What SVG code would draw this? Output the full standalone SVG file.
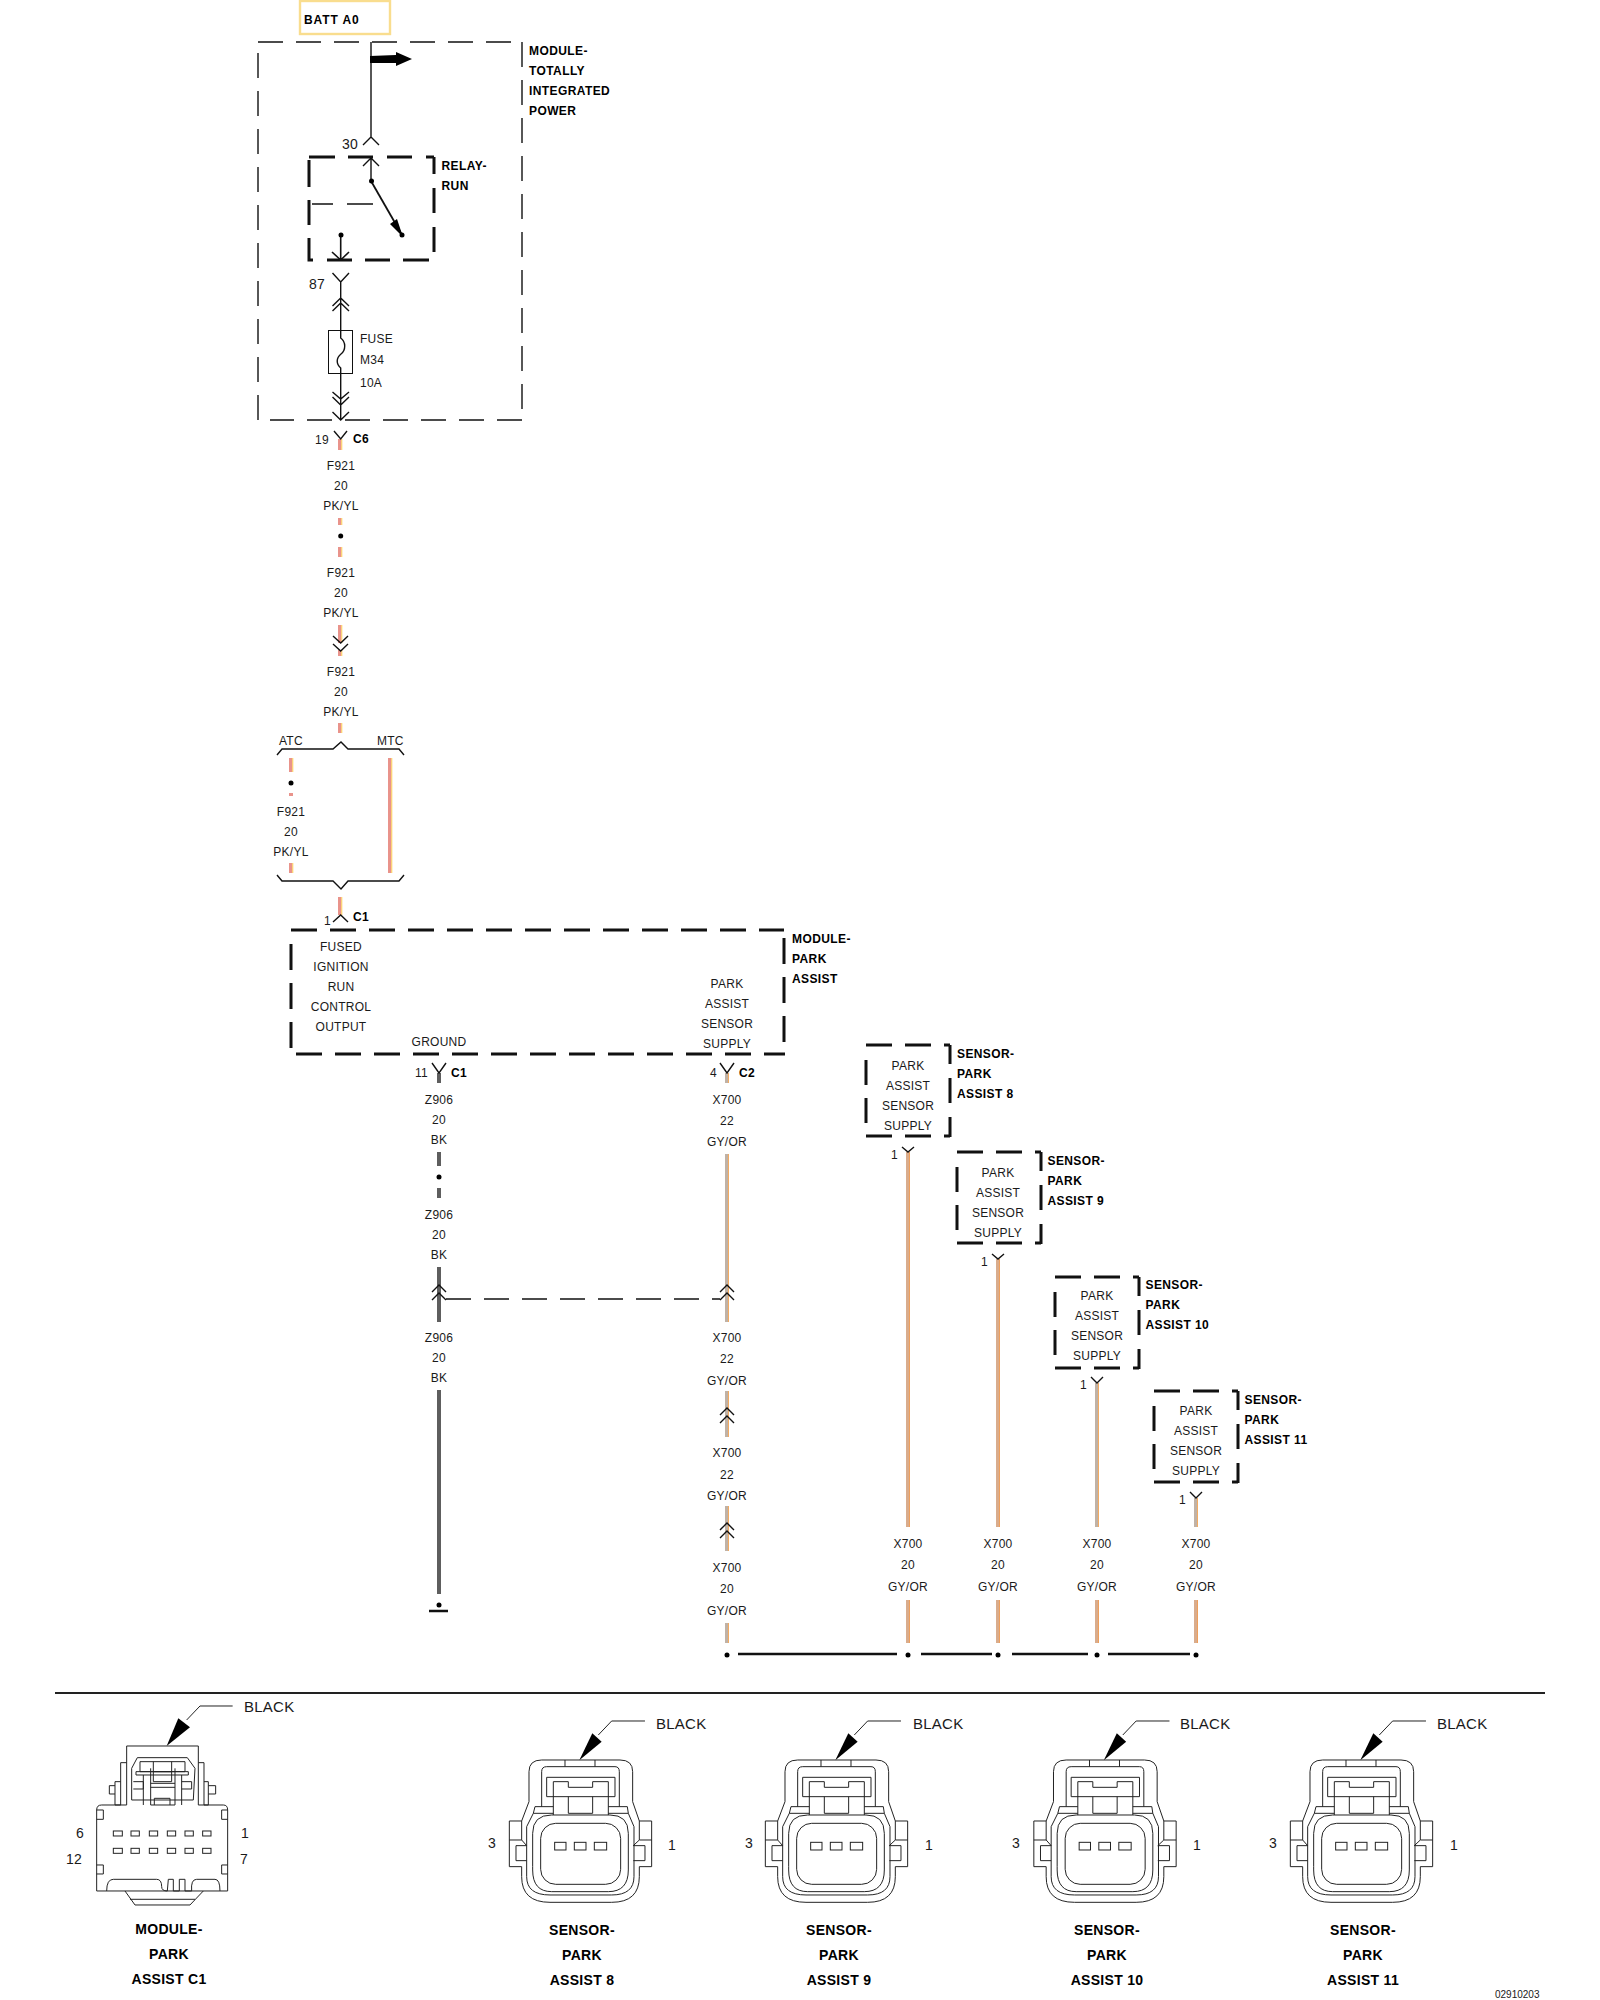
<svg xmlns="http://www.w3.org/2000/svg" xmlns:xlink="http://www.w3.org/1999/xlink" width="1600" height="2000" viewBox="0 0 1600 2000">
<style>
text{font-family:"Liberation Sans",Arial,sans-serif;font-size:12px;fill:#1a1a1a;letter-spacing:.25px}
.c{text-anchor:middle}
.b{font-weight:bold;fill:#000;letter-spacing:.4px}
.n{font-size:14px}
.l{font-size:15px}
.h{font-size:14px;font-weight:bold;fill:#000;text-anchor:middle;letter-spacing:.3px}
.thin{fill:none;stroke:#111;stroke-width:1.4}
.dash1{fill:none;stroke:#111;stroke-width:1.4;stroke-dasharray:25 13}
.dash3{fill:none;stroke:#111;stroke-width:3}
.pk{fill:none;stroke:#e9938b;stroke-width:4}
.pka{fill:none;stroke:#fdd678;stroke-width:1.3}
.gy{fill:none;stroke:#c0b2a6;stroke-width:4}
.gya{fill:none;stroke:#f3ab62;stroke-width:1}
.ta{fill:none;stroke:#d9ac8c;stroke-width:4}
.taa{fill:none;stroke:#ee9f5c;stroke-width:1}
.bk{fill:none;stroke:#5e5e5e;stroke-width:4}
.cn{fill:none;stroke:#222;stroke-width:3}
.dot{fill:#000}
</style>
<defs>
<path id="sbox" class="dash3" d="M0 0H26M39 0H65M78 0H84M84 0V19M84 33V58M84 72V92M84 91H78M65 91H39M26 91H0M0 15V40M0 53V78"/>
<g id="sensorArt">
<path d="M495 63H395L355 105" class="cn"/>
<path d="M298 181L337 100L365 125Z" fill="#000"/>
<path class="cn" d="M125 363H88V500H125V530Q125 607 210 607H395Q478 607 478 530V500H515V363H478L458 305V215Q458 180 420 180H185Q147 180 147 215V305L125 363Z"/>
<path class="cn" d="M88 420H125L140 437H108V482H140M515 420H478L460 437H495V482H460M125 363V420M478 363V420M255 180V200M345 180V200"/>
<path class="cn" d="M185 320V215Q185 200 200 200H405Q418 200 418 215V320M160 340L165 320H220M385 320H442L445 340M160 340H220M385 340H445M200 290V232H405V290M200 290H405M220 245V345M385 245V345M220 245H265V262H338V245H385M265 290V340H338V290"/>
<path class="cn" d="M160 340L140 380V530Q140 585 210 585H395Q462 585 462 530V380L445 340"/>
<path class="cn" d="M158 500V400Q158 345 215 345H390Q445 345 445 400V510Q445 575 385 575H215Q158 575 158 510Z"/>
<rect class="cn" x="182" y="370" width="240" height="183" rx="45"/>
<rect class="cn" x="224" y="427" width="34" height="23"/>
<rect class="cn" x="283" y="427" width="35" height="23"/>
<rect class="cn" x="343" y="427" width="37" height="23"/>
</g>
</defs>

<g id="connectors">
<path class="pk" d="M340 439V450M340 518V525M340 547V557M340 625V643M340 650V656M340 723V733M291 758V772M291 793V796M291 863V873M390 758V873M340 897V915"/>
<path class="pka" d="M341.7 439V450M341.7 518V525M341.7 547V557M341.7 625V643M341.7 650V656M341.7 723V733M292.7 758V772M292.7 863V873M391.7 758V873M341.7 897V915"/>
<path class="bk" d="M439 1073V1083M439 1152V1166M439 1188V1198M439 1267V1322M439 1390V1594"/>
<path class="gy" d="M727 1073V1083M727 1154V1322M727 1391V1437M727 1506V1551M727 1623V1643M1097 1383V1527M1196 1498V1527"/>
<path class="ta" d="M908 1152V1527M998 1259V1527M908 1600V1643M998 1600V1643M1097 1600V1643M1196 1600V1643"/>
<path class="gya" d="M728.5 1073V1083M728.5 1154V1322M728.5 1391V1437M728.5 1506V1551M728.5 1623V1643M1098.5 1383V1527M1197.5 1498V1527"/>
<path class="taa" d="M909.5 1152V1527M999.5 1259V1527M909.5 1600V1643M999.5 1600V1643M1098.5 1600V1643M1197.5 1600V1643"/>
<path class="thin" d="M371 42V137M363 145L371 137L379 145"/>
<path class="thin" d="M363 166L371 158L379 166M371 158V181"/>
<path d="M371 181L402 235" class="thin" style="stroke-width:1.8"/>
<path d="M340.7 235V260M332 252L340.7 260L349 252" class="thin" style="stroke-width:1.6"/>
<path class="thin" d="M332.5 273L340.7 282L349 273M340.7 282V330M332.5 306L340.7 298L349 306M332.5 311L340.7 303L349 311"/>
<path class="thin" d="M340.7 373V420M332.5 392L340.7 399L349 392M332.5 397L340.7 405L349 397M332.5 412L340.7 420L349 412"/>
<path class="thin" d="M334 431L340.7 439L347 431"/>
<path class="thin" d="M333 636L340.7 643L348 636M333 644L340.7 651L348 644"/>
<path class="thin" d="M277 755L282 749H333L341 742L348 749H399L404 755"/>
<path class="thin" d="M277 875L282 881H333L341 889L348 881H399L404 875"/>
<path class="thin" d="M333 922L340.7 915L348 922"/>
<path class="thin" d="M432 1063L439 1073L446 1063M720 1063L727 1073L734 1063"/>
<path class="thin" d="M432 1292L439 1285L446 1292M432 1300L439 1293L446 1300M720 1292L727 1285L734 1292M720 1300L727 1293L734 1300"/>
<path class="dash1" d="M446 1299H720"/>
<path class="thin" d="M720 1415L727 1408L734 1415M720 1423L727 1416L734 1423M720 1530L727 1523L734 1530M720 1538L727 1531L734 1538"/>
<path class="thin" d="M902 1147L908 1152L914 1147M992 1254L998 1259L1004 1254M1091 1377L1097 1383L1103 1377M1190 1492L1196 1498L1202 1492"/>
<path fill="none" stroke="#111" stroke-width="2.5" d="M429 1611H448M738 1654H897M921 1654H992M1012 1654H1088M1108 1654H1190"/>
<g class="dot">
<circle cx="340.7" cy="536" r="2.5"/><circle cx="291" cy="783" r="2.5"/><circle cx="439" cy="1177" r="2.5"/><circle cx="439" cy="1605" r="2.5"/>
<circle cx="727" cy="1655" r="2.5"/><circle cx="908" cy="1655" r="2.5"/><circle cx="998" cy="1655" r="2.5"/><circle cx="1097" cy="1655" r="2.5"/><circle cx="1196" cy="1655" r="2.5"/>
</g>
</g>

<g id="batt-a0">
<rect x="300" y="1" width="90" height="33" fill="none" stroke="#f9dd8e" stroke-width="2.4"/>
<text class="b" x="304" y="24" style="letter-spacing:.9px">BATT A0</text>
</g>

<g id="module-tip">
<path class="dash1" d="M258 42H522M522 42V420M522 420H270M258 420V42"/>
<text class="b" x="529" y="55">MODULE-</text><text class="b" x="529" y="75">TOTALLY</text><text class="b" x="529" y="95">INTEGRATED</text><text class="b" x="529" y="115">POWER</text>
<path d="M370 56L396 55V52L412 59L396 66V63L370 63Z" fill="#000"/>
<text class="n" x="342" y="149">30</text><text class="n" x="309" y="289">87</text>
</g>

<g id="relay-run">
<path class="dash3" d="M309 157H335M348 157H373M387 157H412M426 157H434M434 157V174M434 188V213M434 227V252M429 260H403M390 260H365M352 260H327M313 260H309V238M309 225V200M309 187V160"/>
<path class="thin" d="M312 204H333M347 204H373"/>
<circle class="dot" cx="371.5" cy="181" r="2.5"/><circle class="dot" cx="402" cy="235" r="2.5"/><circle class="dot" cx="341" cy="235" r="2.5"/>
<path d="M403 237L390 224L397 219Z" fill="#000"/>
<text class="b" x="441.500" y="170">RELAY-</text><text class="b" x="441.500" y="190">RUN</text>
</g>

<g id="fuse-m34">
<rect class="thin" x="328.5" y="330.5" width="24" height="43" style="stroke-width:1"/>
<path class="thin" d="M340.7 330V338C346 342 346 350 341 354C336 358 336 364 340.7 368V373"/>
<text x="360" y="343">FUSE</text><text x="360" y="364">M34</text><text x="360" y="387">10A</text>
</g>

<g id="wire-labels">
<text x="315" y="444">19</text><text class="b" x="353" y="443">C6</text>
<text class="c" x="341" y="470">F921</text><text class="c" x="341" y="490">20</text><text class="c" x="341" y="510">PK/YL</text>
<text class="c" x="341" y="577">F921</text><text class="c" x="341" y="597">20</text><text class="c" x="341" y="617">PK/YL</text>
<text class="c" x="341" y="676">F921</text><text class="c" x="341" y="696">20</text><text class="c" x="341" y="716">PK/YL</text>
<text x="279" y="745">ATC</text><text x="377" y="745">MTC</text>
<text class="c" x="291" y="816">F921</text><text class="c" x="291" y="836">20</text><text class="c" x="291" y="856">PK/YL</text>
<text x="324" y="925">1</text><text class="b" x="353" y="921">C1</text>
<text x="415" y="1077">11</text><text class="b" x="451" y="1077">C1</text>
<text x="710" y="1077">4</text><text class="b" x="739" y="1077">C2</text>
<text class="c" x="439" y="1104">Z906</text><text class="c" x="439" y="1124">20</text><text class="c" x="439" y="1144">BK</text>
<text class="c" x="439" y="1219">Z906</text><text class="c" x="439" y="1239">20</text><text class="c" x="439" y="1259">BK</text>
<text class="c" x="439" y="1342">Z906</text><text class="c" x="439" y="1362">20</text><text class="c" x="439" y="1382">BK</text>
<text class="c" x="727" y="1104">X700</text><text class="c" x="727" y="1125">22</text><text class="c" x="727" y="1146">GY/OR</text>
<text class="c" x="727" y="1342">X700</text><text class="c" x="727" y="1363">22</text><text class="c" x="727" y="1385">GY/OR</text>
<text class="c" x="727" y="1457">X700</text><text class="c" x="727" y="1479">22</text><text class="c" x="727" y="1500">GY/OR</text>
<text class="c" x="727" y="1572">X700</text><text class="c" x="727" y="1593">20</text><text class="c" x="727" y="1615">GY/OR</text>
<text class="c" x="908" y="1548">X700</text><text class="c" x="908" y="1569">20</text><text class="c" x="908" y="1591">GY/OR</text>
<text class="c" x="998" y="1548">X700</text><text class="c" x="998" y="1569">20</text><text class="c" x="998" y="1591">GY/OR</text>
<text class="c" x="1097" y="1548">X700</text><text class="c" x="1097" y="1569">20</text><text class="c" x="1097" y="1591">GY/OR</text>
<text class="c" x="1196" y="1548">X700</text><text class="c" x="1196" y="1569">20</text><text class="c" x="1196" y="1591">GY/OR</text>
</g>

<g id="module-park-assist">
<path class="dash3" style="stroke-dasharray:26 13" d="M291 930H784M784 938V1054M296 1054H785M291 944V1056"/>
<text class="c" x="341" y="951">FUSED</text><text class="c" x="341" y="971">IGNITION</text><text class="c" x="341" y="991">RUN</text><text class="c" x="341" y="1011">CONTROL</text><text class="c" x="341" y="1031">OUTPUT</text>
<text class="c" x="439" y="1046">GROUND</text>
<text class="c" x="727" y="988">PARK</text><text class="c" x="727" y="1008">ASSIST</text><text class="c" x="727" y="1028">SENSOR</text><text class="c" x="727" y="1048">SUPPLY</text>
<text class="b" x="792" y="943">MODULE-</text><text class="b" x="792" y="963">PARK</text><text class="b" x="792" y="983">ASSIST</text>
</g>

<g id="sensor-box-8">
<use href="#sbox" x="866" y="1045"/>
<text class="c" x="908" y="1070">PARK</text><text class="c" x="908" y="1090">ASSIST</text><text class="c" x="908" y="1110">SENSOR</text><text class="c" x="908" y="1130">SUPPLY</text>
<text class="b" x="957" y="1058">SENSOR-</text><text class="b" x="957" y="1078">PARK</text><text class="b" x="957" y="1098">ASSIST 8</text>
<text x="891" y="1159">1</text>
</g>
<g id="sensor-box-9">
<use href="#sbox" x="957" y="1152"/>
<text class="c" x="998" y="1177">PARK</text><text class="c" x="998" y="1197">ASSIST</text><text class="c" x="998" y="1217">SENSOR</text><text class="c" x="998" y="1237">SUPPLY</text>
<text class="b" x="1047.500" y="1165">SENSOR-</text><text class="b" x="1047.500" y="1185">PARK</text><text class="b" x="1047.500" y="1205">ASSIST 9</text>
<text x="981" y="1266">1</text>
</g>
<g id="sensor-box-10">
<use href="#sbox" x="1055" y="1277"/>
<text class="c" x="1097" y="1300">PARK</text><text class="c" x="1097" y="1320">ASSIST</text><text class="c" x="1097" y="1340">SENSOR</text><text class="c" x="1097" y="1360">SUPPLY</text>
<text class="b" x="1145.500" y="1289">SENSOR-</text><text class="b" x="1145.500" y="1309">PARK</text><text class="b" x="1145.500" y="1329">ASSIST 10</text>
<text x="1080" y="1389">1</text>
</g>
<g id="sensor-box-11">
<use href="#sbox" x="1154" y="1391"/>
<text class="c" x="1196" y="1415">PARK</text><text class="c" x="1196" y="1435">ASSIST</text><text class="c" x="1196" y="1455">SENSOR</text><text class="c" x="1196" y="1475">SUPPLY</text>
<text class="b" x="1244.500" y="1404">SENSOR-</text><text class="b" x="1244.500" y="1424">PARK</text><text class="b" x="1244.500" y="1444">ASSIST 11</text>
<text x="1179" y="1504">1</text>
</g>

<g id="divider"><path d="M55 1693H1545" stroke="#222" stroke-width="2" fill="none"/></g>

<g id="connector-module-c1">
<g transform="translate(60 1690) scale(.3333)">
<path class="cn" d="M518 48H420L380 90"/>
<path d="M320 168L355 85L390 112Z" fill="#000"/>
<path class="cn" d="M200 345H125Q110 345 110 360V603H503V360Q503 345 490 345H415M200 345V168H415V345"/>
<path class="cn" d="M110 360H130V388H110M503 360H485V388H503M110 525H130V552H110M503 525H485V552H503"/>
<path class="cn" d="M182 345V218H200M432 345V218H415M182 275H165V345H182M432 275H445V345H432M165 287H148V312H165M445 287H467V312H445"/>
<path class="cn" d="M215 330V235L232 203H382L405 235L400 330H215M240 215H375V245H240ZM280 215V245M335 215V245M228 245H385V255H228ZM272 235V345H345V235M280 245H335V275H280ZM272 280H345M272 292H345M283 345V325H330V345M220 275H250V297H220M365 275H395V297H365M250 255V345M365 255V345"/>
<path class="cn" d="M140 603Q140 568 160 568H290Q305 568 305 590Q305 603 322 603L325 568H340V603H358V568H375V603H395Q392 568 410 568H465Q480 568 480 603"/>
<path class="cn" d="M195 603L225 645H390L430 603M210 628H405"/>
<g class="cn">
<rect x="160" y="423" width="27" height="15"/><rect x="213" y="423" width="25" height="15"/><rect x="268" y="423" width="25" height="15"/><rect x="322" y="423" width="25" height="15"/><rect x="375" y="423" width="25" height="15"/><rect x="428" y="423" width="25" height="15"/>
<rect x="160" y="475" width="27" height="15"/><rect x="213" y="475" width="25" height="15"/><rect x="268" y="475" width="25" height="15"/><rect x="322" y="475" width="25" height="15"/><rect x="375" y="475" width="25" height="15"/><rect x="428" y="475" width="25" height="15"/>
</g>
</g>
<text class="l" x="244" y="1712">BLACK</text>
<text class="n" x="76" y="1838">6</text><text class="n" x="66" y="1864">12</text><text class="n" x="241" y="1838">1</text><text class="n" x="240" y="1864">7</text>
<text class="h" x="169" y="1934">MODULE-</text><text class="h" x="169" y="1959">PARK</text><text class="h" x="169" y="1984">ASSIST C1</text>
</g>

<g id="connector-sensor-8">
<use href="#sensorArt" transform="translate(480 1700) scale(.3333)"/>
<text class="l" x="656" y="1729">BLACK</text><text class="n" x="488" y="1848">3</text><text class="n" x="668" y="1850">1</text>
<text class="h" x="582" y="1935">SENSOR-</text><text class="h" x="582" y="1960">PARK</text><text class="h" x="582" y="1985">ASSIST 8</text>
</g>
<g id="connector-sensor-9">
<use href="#sensorArt" transform="translate(736 1700) scale(.3333)"/>
<text class="l" x="913" y="1729">BLACK</text><text class="n" x="745" y="1848">3</text><text class="n" x="925" y="1850">1</text>
<text class="h" x="839" y="1935">SENSOR-</text><text class="h" x="839" y="1960">PARK</text><text class="h" x="839" y="1985">ASSIST 9</text>
</g>
<g id="connector-sensor-10">
<use href="#sensorArt" transform="translate(1004.500 1700) scale(.3333)"/>
<text class="l" x="1180" y="1729">BLACK</text><text class="n" x="1012" y="1848">3</text><text class="n" x="1193" y="1850">1</text>
<text class="h" x="1107" y="1935">SENSOR-</text><text class="h" x="1107" y="1960">PARK</text><text class="h" x="1107" y="1985">ASSIST 10</text>
</g>
<g id="connector-sensor-11">
<use href="#sensorArt" transform="translate(1261 1700) scale(.3333)"/>
<text class="l" x="1437" y="1729">BLACK</text><text class="n" x="1269" y="1848">3</text><text class="n" x="1450" y="1850">1</text>
<text class="h" x="1363" y="1935">SENSOR-</text><text class="h" x="1363" y="1960">PARK</text><text class="h" x="1363" y="1985">ASSIST 11</text>
</g>
<text id="figure-code" x="1495" y="1998" style="font-size:10px;letter-spacing:0">02910203</text>
</svg>
